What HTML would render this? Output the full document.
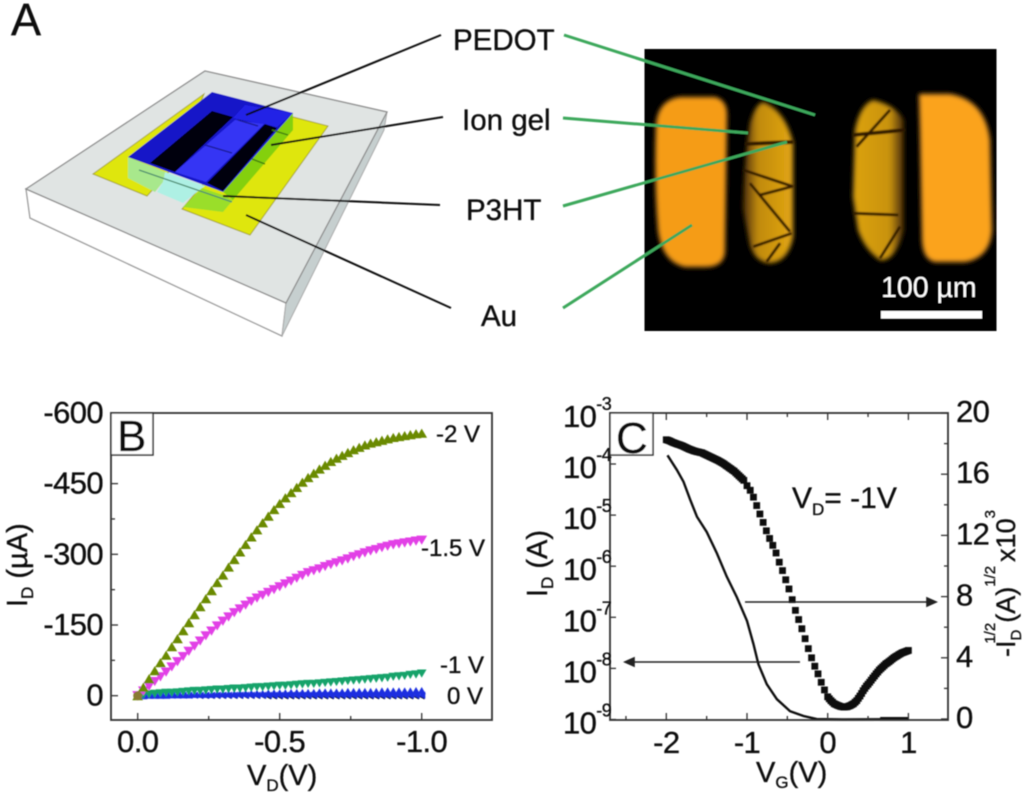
<!DOCTYPE html>
<html><head><meta charset="utf-8"><title>Transistor figure</title>
<style>
html,body{margin:0;padding:0;background:#fff;width:1024px;height:795px;overflow:hidden}
svg{display:block}
text{font-family:"Liberation Sans",sans-serif;fill:#111;stroke:#111;stroke-width:0.35px}
</style></head>
<body>
<svg id="fig" width="1024" height="795" viewBox="0 0 1024 795" xmlns="http://www.w3.org/2000/svg">
<defs>
<filter id="soft" filterUnits="userSpaceOnUse" x="0" y="0" width="1024" height="795"><feGaussianBlur stdDeviation="0.65"/></filter>
<filter id="glow" filterUnits="userSpaceOnUse" x="640" y="45" width="360" height="290"><feGaussianBlur stdDeviation="2.4"/></filter>
<filter id="crackblur" filterUnits="userSpaceOnUse" x="0" y="0" width="2000" height="1200"><feGaussianBlur stdDeviation="2.4"/></filter>
<linearGradient id="inL" x1="0" x2="1" y1="0" y2="0"><stop offset="0" stop-color="#4a2c05"/><stop offset=".3" stop-color="#c08a10"/><stop offset="1" stop-color="#e2a612"/></linearGradient>
<linearGradient id="inR" x1="0" x2="1" y1="0" y2="0"><stop offset="0" stop-color="#dca212"/><stop offset=".72" stop-color="#c8920e"/><stop offset="1" stop-color="#3e2505"/></linearGradient>
</defs>
<g filter="url(#soft)">
<g id="panel-a">
<text x="11" y="35" font-size="45">A</text>
<g>
<polygon points="26,189 286,303 282,336 30,218" fill="#fff" stroke="#999" stroke-width="1.3"/>
<polygon points="387,112 286,303 282,336 384,130" fill="#c6cfcf" stroke="#aaa" stroke-width="1"/>
<polygon points="205,71 387,112 286,303 26,189" fill="#e0e4e3" stroke="#8d8d8d" stroke-width="1.3"/>
<polygon points="204,94 93,174 147,196 175,165" fill="#dfe60a" stroke="#a8a520" stroke-width="1"/>
<polygon points="293,117 328,126 250,235 182,209 215,170" fill="#dfe60a" stroke="#a8a520" stroke-width="1"/>
<polygon points="293,113 223,192 233,200 293,130" fill="#84d010"/>
<polygon points="202,188 223,195 233,200 223,212 183,207" fill="#9ade2c"/>
<polygon points="128,157 165,172 163,182 155,192 128,178" fill="#a8e88c"/>
<polygon points="165,172 205,186 202,188 183,203 157,192 163,182" fill="#aef0e4"/>
<polygon points="212,92 293,113 223,192 128,157" fill="#1818c8"/>
<polygon points="245,105 293,113 277,127 233,118" fill="#2020e6"/>
<polygon points="235,120 264,124 206,182 175,172" fill="#3434f4"/>
<polygon points="212,111 233,117 175,172 150,163" fill="#050508"/>
<polygon points="265,124 277,128 223,191 207,183" fill="#050508"/>
<line x1="205" y1="145" x2="232" y2="153" stroke="#1a1a90" stroke-width="1.3"/>
<line x1="238" y1="120" x2="258" y2="126" stroke="#1a1a90" stroke-width="1.3"/>
<line x1="139" y1="170" x2="232" y2="202" stroke="#4c8c70" stroke-width="1.2"/>
<line x1="272" y1="130" x2="288" y2="135" stroke="#3c7a10" stroke-width="1.3"/>
<line x1="252" y1="159" x2="265" y2="164" stroke="#3c7a10" stroke-width="1.3"/>
</g>
<g stroke="#111" stroke-width="2" fill="none">
<line x1="441" y1="35" x2="246" y2="115"/>
<line x1="443" y1="117" x2="271" y2="145"/>
<line x1="440" y1="205" x2="223" y2="196"/>
<line x1="451" y1="308" x2="246" y2="215"/>
</g>
<text x="453" y="50" font-size="29.5">PEDOT</text>
<text x="462" y="130" font-size="29.5">Ion gel</text>
<text x="466" y="220" font-size="29.5">P3HT</text>
<text x="481" y="326" font-size="29.5">Au</text>
<g>
<rect x="644.5" y="49" width="352" height="282" fill="#000"/>
<g filter="url(#glow)">
<path d="M680,97 L715,97 Q727,100 727,115 L725,250 Q725,267 705,267 L685,267 Q662,262 658,230 Q654,180 656,125 Q658,100 680,97Z" fill="#f59c18"/>
<path d="M919,94 L950,94 Q985,100 990,140 L992,230 Q990,258 965,262 L935,262 Q923,260 922,240 L920,130Z" fill="#fba31a"/>
<path d="M763,102 Q785,110 793,143 L793,237 Q788,262 770,263 Q755,262 750,245 L743,210 Q743,170 750,123 Q755,105 763,102Z" fill="url(#inL)"/>
<path d="M873,100 Q895,105 904,120 L904,230 Q895,262 880,260 Q865,250 858,230 L853,197 L855,130 Q860,105 873,100Z" fill="url(#inR)"/>
</g>
<g transform="translate(620,30) scale(0.3333)" stroke="#2c1203" stroke-width="7" fill="none" filter="url(#crackblur)">
<line x1="375" y1="342" x2="520" y2="336" stroke-width="10"/>
<line x1="370" y1="420" x2="520" y2="470"/>
<line x1="390" y1="460" x2="510" y2="605"/>
<line x1="420" y1="495" x2="515" y2="470"/>
<line x1="400" y1="650" x2="515" y2="610"/>
<line x1="440" y1="695" x2="480" y2="640"/>
<line x1="700" y1="315" x2="855" y2="300" stroke-width="10"/>
<line x1="710" y1="350" x2="810" y2="240"/>
<line x1="700" y1="550" x2="835" y2="555"/>
<line x1="780" y1="685" x2="840" y2="590"/>
</g>
<text x="881" y="297" font-size="28.5" style="fill:#fff;stroke:none">100 µm</text>
<rect x="881" y="311" width="101" height="7.5" fill="#fff"/>
</g>
<g stroke="#3ca85c" stroke-width="3">
<line x1="564" y1="35" x2="815" y2="115"/>
<line x1="563" y1="118" x2="748" y2="133"/>
<line x1="563" y1="206" x2="787" y2="142"/>
<line x1="563" y1="308" x2="692" y2="225"/>
</g>
</g>

<g id="panel-b">
<g id="b-marks"></g>
<rect x="111" y="413" width="381" height="307" fill="none" stroke="#333" stroke-width="1.8"/>
<g id="b-ticks"></g>
<rect x="111" y="413" width="42" height="42" fill="#fff" stroke="#333" stroke-width="1.5"/>
<text x="117" y="451" font-size="44">B</text>
<text x="436" y="442" font-size="24">-2 V</text>
<text x="421" y="556" font-size="24">-1.5 V</text>
<text x="440" y="673" font-size="24">-1 V</text>
<text x="447" y="704" font-size="24">0 V</text>
<text x="247" y="785" font-size="29">V<tspan font-size="17" dy="6">D</tspan><tspan dy="-6">(V)</tspan></text>
<text transform="translate(27,607) rotate(-90)" font-size="29">I<tspan font-size="17" dy="6">D</tspan><tspan dy="-6"> (µA)</tspan></text>
</g>

<g id="panel-c">
<g id="c-marks"></g>
<rect x="610" y="413" width="338" height="307" fill="none" stroke="#333" stroke-width="1.8"/>
<g id="c-ticks"></g>
<rect x="610" y="413" width="43" height="42" fill="#fff" stroke="#333" stroke-width="1.5"/>
<text x="616" y="453" font-size="44">C</text>
<text x="792" y="508" font-size="30">V<tspan font-size="17" dy="7">D</tspan><tspan dy="-7">= -1V</tspan></text>
<g stroke="#222" stroke-width="1.6" fill="#222">
<line x1="745" y1="602" x2="930" y2="602"/>
<polygon points="936,602 927,598 927,606"/>
</g>
<g stroke="#222" stroke-width="1.6" fill="#222">
<line x1="800" y1="662" x2="631" y2="662"/>
<polygon points="625,662 634,658 634,666"/>
</g>
<text x="756" y="782" font-size="29">V<tspan font-size="17" dy="6">G</tspan><tspan dy="-6">(V)</tspan></text>
<text transform="translate(547,597) rotate(-90)" font-size="29">I<tspan font-size="17" dy="6">D</tspan><tspan dy="-6"> (A)</tspan></text>
<text transform="translate(1015,657) rotate(-90)" font-size="27">-I<tspan font-size="15" dy="6">D</tspan><tspan font-size="15" dy="-26" dx="-14">1/2</tspan><tspan dy="20">(A)</tspan><tspan font-size="15" dy="-20">1/2</tspan><tspan dy="20" dx="4">x10</tspan><tspan font-size="15" dy="-20">3</tspan></text>
</g>
</g>

<script>
/* Panel B data */
var drainVoltage = [0,-0.02,-0.04,-0.06,-0.08,-0.1,-0.12,-0.14,-0.16,-0.18,-0.2,-0.22,-0.24,-0.26,-0.28,-0.3,-0.32,-0.34,-0.36,-0.38,-0.4,-0.42,-0.44,-0.46,-0.48,-0.5,-0.52,-0.54,-0.56,-0.58,-0.6,-0.62,-0.64,-0.66,-0.68,-0.7,-0.72,-0.74,-0.76,-0.78,-0.8,-0.82,-0.84,-0.86,-0.88,-0.9,-0.92,-0.94,-0.96,-0.98,-1];
var currentGate0 = [0,0,0,0,0,0,0,0,0,0,0,-1,-1,-1,-1,-1,-1,-1,-1,-1,-1,-1,-1,-2,-2,-2,-2,-2,-2,-2,-2,-2,-2,-2,-2,-2,-2,-2,-2,-2,-2,-2,-2,-2,-2,-2,-2,-2,-2,-2,-2];
var currentGateBase = [1,1,1,1,1,1,1,1,1,1,1,1,1,1,1,1,1,1,1,1,1,1,1,1,1,1,1,1,1,1,1,1,1,1,1,1,1,1,1,1,1,1,1,1,1,1,1,1,1,1,1];
var currentGate05 = [0,0,1,1,1,1,2,2,2,2,3,3,3,3,4,4,4,4,5,5,5,5,5,6,6,6,6,7,7,7,7,7,8,8,8,8,8,9,9,9,9,9,9,10,10,10,10,10,10,11,11];
var currentGate1 = [0,2,3,4,5,6,6,7,8,9,10,10,11,12,13,13,14,15,15,16,17,18,18,19,20,21,21,22,23,24,25,25,26,27,28,29,30,31,32,33,34,35,36,37,38,40,41,42,44,45,47];
var currentGate15 = [0,10,20,30,40,50,61,72,83,94,105,116,127,137,148,158,167,176,184,192,200,207,213,219,225,231,237,243,249,255,261,265,269,274,278,282,286,290,295,299,303,307,310,314,317,320,322,324,326,328,330];
var currentGate2 = [0,18,36,53,70,86,104,121,138,155,172,189,206,223,240,256,273,289,305,321,337,352,367,381,395,408,420,431,442,453,463,472,481,489,497,504,510,516,522,527,532,536,539,542,545,548,550,552,554,556,557];
var bXTickValues = [0,-0.5,-1];
var bXTickLabels = ['0.0','-0.5','-1.0'];
var bXMinorValues = [-0.25,-0.75];
var bYTickValues = [0,-150,-300,-450,-600];
var bYTickLabels = ['0','-150','-300','-450','-600'];
var bYMinorValues = [-75,-225,-375,-525];

/* Panel C data */
var gateVoltageSquares = [-2,-1.96,-1.92,-1.88,-1.84,-1.8,-1.76,-1.72,-1.68,-1.64,-1.6,-1.56,-1.52,-1.48,-1.44,-1.4,-1.36,-1.32,-1.28,-1.24,-1.2,-1.16,-1.12,-1.08,-1.04,-1,-0.96,-0.92,-0.88,-0.84,-0.8,-0.76,-0.72,-0.68,-0.64,-0.6,-0.56,-0.52,-0.48,-0.44,-0.4,-0.36,-0.32,-0.28,-0.24,-0.2,-0.16,-0.12,-0.08,-0.04,0,0.04,0.08,0.12,0.16,0.2,0.24,0.28,0.32,0.36,0.4,0.44,0.48,0.52,0.56,0.6,0.64,0.68,0.72,0.76,0.8,0.84,0.88,0.92,0.96,1];
var sqrtCurrent = [18.25,18.18,18.08,18,17.93,17.85,17.75,17.65,17.57,17.5,17.45,17.4,17.3,17.2,17.1,17,16.9,16.78,16.65,16.5,16.35,16.2,16,15.8,15.6,15.25,14.95,14.5,13.95,13.4,12.85,12.3,11.8,11.35,10.85,10.25,9.7,9.1,8.5,7.8,7.1,6.5,5.9,5.25,4.6,4,3.45,2.95,2.4,1.9,1.45,1.2,1,0.9,0.82,0.78,0.8,0.88,1,1.2,1.5,1.85,2.15,2.4,2.68,2.95,3.2,3.4,3.6,3.75,3.92,4.07,4.2,4.32,4.4,4.48];
var gateVoltageDense = [-1.98,-1.94,-1.9,-1.86,-1.82,-1.78,-1.74,-1.7,-1.66,-1.62,-1.58,-1.54,-1.5,-1.46,-1.42,-1.38,-1.34,-1.3,-1.26,-1.22,-1.18,-1.14,-1.1,-1.06,0.02,0.06,0.1,0.14,0.18,0.22,0.26,0.3,0.34,0.38,0.42,0.46,0.5,0.54,0.58,0.62,0.66,0.7,0.74,0.78,0.82,0.86,0.9,0.94,0.98];
var sqrtCurrentDense = [18.22,18.13,18.04,17.96,17.89,17.8,17.7,17.61,17.53,17.47,17.42,17.35,17.25,17.15,17.05,16.95,16.84,16.72,16.57,16.42,16.27,16.1,15.9,15.7,1.32,1.1,0.95,0.86,0.8,0.79,0.84,0.94,1.1,1.35,1.67,2,2.27,2.54,2.81,3.07,3.3,3.5,3.67,3.83,4,4.13,4.26,4.36,4.44];
var gateVoltageLine = [-1.985,-1.87,-1.787,-1.704,-1.62,-1.5,-1.374,-1.25,-1.127,-1,-0.92,-0.858,-0.755,-0.63,-0.466,-0.3,-0.136,0.19,1];
var drainCurrentLog = [1.48e-4,7.7e-5,4.5e-5,2.0e-5,9.3e-6,4.7e-6,1.8e-6,6.2e-7,2.5e-7,8.5e-8,3.0e-8,1.2e-8,4.9e-9,2.5e-9,1.45e-9,1.17e-9,1.02e-9,1e-9,1.02e-9];
var gateVoltageFloor = [0.65,1];
var drainCurrentFloor = [1.03e-9,1.03e-9];
var cXTickValues = [-2,-1,0,1];
var cXTickLabels = ['-2','-1','0','1'];
var cXMinorValues = [-2.5,-1.5,-0.5,0.5];
var cLeftTickValues = [1e-3,1e-4,1e-5,1e-6,1e-7,1e-8,1e-9];
var cLeftTickExponents = ['-3','-4','-5','-6','-7','-8','-9'];
var cRightTickValues = [20,16,12,8,4,0];
var cRightTickLabels = ['20','16','12','8','4','0'];
var cRightMinorValues = [18,14,10,6,2];

var NS = 'http://www.w3.org/2000/svg';
function bx(v){ return 137.7 + (-v) * 284; }
function by(v){ return 695.7 - v * 0.4713; }
function byNeg(v){ return 695.7 + v * 0.4713; }
function cx(v){ return 827.7 + v * 80.7; }
function cyLog(v){ return 719.5 - (Math.log10(v) + 9) * 51.1; }
function cyRight(v){ return 719 - v * 15.3; }

function mk(tag, parent, attrs){
  var el = document.createElementNS(NS, tag);
  for (var k in attrs) el.setAttribute(k, attrs[k]);
  parent.appendChild(el);
  return el;
}
function triangle(x, y, s, dir){
  if (dir === 'up') return (x-s)+','+(y+s*0.85)+' '+(x+s)+','+(y+s*0.85)+' '+x+','+(y-s*0.85);
  if (dir === 'down') return (x-s)+','+(y-s*0.85)+' '+(x+s)+','+(y-s*0.85)+' '+x+','+(y+s*0.85);
  return (x+s)+','+(y-s)+' '+(x+s)+','+(y+s)+' '+(x-s)+','+y;
}
function drawSeries(parent, values, color, dir, size, seriesName){
  var g = mk('g', parent, {fill: color});
  
  
  for (var i = 0; i < values.length; i++){
    var p = mk('polygon', g, {points: triangle(bx(drainVoltage[i]), by(values[i]), size, dir)});
    
    
  }
}
var bMarks = document.getElementById('b-marks');
var bTicks = document.getElementById('b-ticks');
var cMarks = document.getElementById('c-marks');
var cTicks = document.getElementById('c-ticks');

drawSeries(bMarks, currentGate0, '#000', 'left', 2.8, 'series-0v');
drawSeries(bMarks, currentGateBase, '#1b2fe0', 'left', 3.6, 'series-base');
drawSeries(bMarks, currentGate05, '#1b2fe0', 'up', 4.2, 'series-minus-0-5v');
drawSeries(bMarks, currentGate1, '#12a36b', 'down', 4.8, 'series-minus-1v');
drawSeries(bMarks, currentGate15, '#e23fe6', 'down', 5.4, 'series-minus-1-5v');
drawSeries(bMarks, currentGate2, '#6a8a06', 'up', 5.4, 'series-minus-2v');
var origin = mk('circle', bMarks, {cx: bx(0), cy: by(0), r: 4.5, fill: '#8a7a30'});



function tick(parent, x1, y1, x2, y2, name){
  var t = mk('line', parent, {x1: x1, y1: y1, x2: x2, y2: y2, stroke: '#333', 'stroke-width': 1.3});
  
  
}
function label(parent, x, y, str, size, anchor, name){
  var t = mk('text', parent, {x: x, y: y, 'font-size': size, 'text-anchor': anchor, 'letter-spacing': '-0.6'});
  t.textContent = str;
  
  
  return t;
}
bXTickValues.forEach(function(v, i){
  tick(bTicks, bx(v), 720, bx(v), 713, 'x-tick');
  label(bTicks, bx(v), 752, bXTickLabels[i], 31, 'middle', 'x-tick-label');
});
bXMinorValues.forEach(function(v){
  tick(bTicks, bx(v), 720, bx(v), 716, 'x-minor-tick');
});
bYTickValues.forEach(function(v, i){
  tick(bTicks, 111, byNeg(v), 118, byNeg(v), 'y-tick');
  label(bTicks, 103, byNeg(v) + 10, bYTickLabels[i], 31, 'end', 'y-tick-label');
});
bYMinorValues.forEach(function(v){
  tick(bTicks, 111, byNeg(v), 115, byNeg(v), 'y-minor-tick');
});

var squares = mk('g', cMarks, {fill: '#111'});


for (var i = 0; i < sqrtCurrent.length; i++){
  var r = mk('rect', squares, {x: cx(gateVoltageSquares[i]) - 3.4, y: cyRight(sqrtCurrent[i]) - 3.4, width: 6.8, height: 6.8});
  
  
}
for (var j = 0; j < sqrtCurrentDense.length; j++){
  var d = mk('rect', squares, {x: cx(gateVoltageDense[j]) - 3.4, y: cyRight(sqrtCurrentDense[j]) - 3.4, width: 6.8, height: 6.8});
  
  
}
var linePts = gateVoltageLine.map(function(v, i){ return cx(v) + ',' + cyLog(drainCurrentLog[i]); }).join(' ');
var lineEl = mk('polyline', cMarks, {points: linePts, fill: 'none', stroke: '#111', 'stroke-width': 2.4});


var floorPts = gateVoltageFloor.map(function(v, i){ return cx(v) + ',' + cyLog(drainCurrentFloor[i]); }).join(' ');
var floorEl = mk('polyline', cMarks, {points: floorPts, fill: 'none', stroke: '#111', 'stroke-width': 3.6});



cXTickValues.forEach(function(v, i){
  tick(cTicks, cx(v), 720, cx(v), 713, 'x-tick');
  tick(cTicks, cx(v), 413, cx(v), 420, 'x-top-tick');
  label(cTicks, cx(v), 753, cXTickLabels[i], 31, 'middle', 'x-tick-label');
});
cXMinorValues.forEach(function(v){
  tick(cTicks, cx(v), 720, cx(v), 716, 'x-minor-tick');
  tick(cTicks, cx(v), 413, cx(v), 417, 'x-top-minor-tick');
});
cLeftTickValues.forEach(function(v, i){
  var y = cyLog(v);
  tick(cTicks, 610, y, 616, y, 'left-y-tick');
  var t = label(cTicks, 563, y + 14, '10', 31, 'start', 'left-y-tick-label');
  var s = mk('tspan', t, {'font-size': 18, dy: -17});
  s.textContent = cLeftTickExponents[i];
});
cRightTickValues.forEach(function(v, i){
  var y = cyRight(v);
  tick(cTicks, 948, y, 941, y, 'right-y-tick');
  label(cTicks, 956, y + 9, cRightTickLabels[i], 31, 'start', 'right-y-tick-label');
});
cRightMinorValues.forEach(function(v){
  tick(cTicks, 948, cyRight(v), 944, cyRight(v), 'right-y-minor-tick');
});
</script>
</svg>
</body></html>
